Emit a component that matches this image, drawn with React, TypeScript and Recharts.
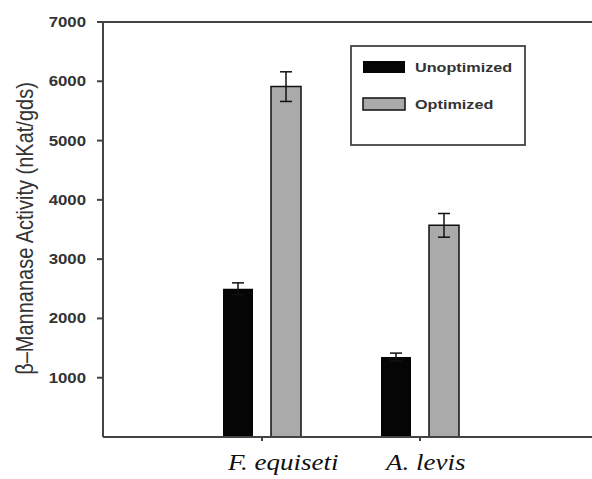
import React from 'react';
import { BarChart, Bar, XAxis, YAxis, ErrorBar, Legend, ReferenceLine } from 'recharts';

const categories = ['F. equiseti', 'A. levis'];
const seriesNames = ['Unoptimized', 'Optimized'];
const unoptimized = [2500, 1350];
const optimized = [5910, 3570];
const unoptimizedErr = [100, 65];
const optimizedErr = [250, 200];
const yTicks = [1000, 2000, 3000, 4000, 5000, 6000, 7000];
const yLabel = 'β–Mannanase Activity (nKat/gds)';

const data = categories.map((c, i) => ({
  name: c,
  Unoptimized: unoptimized[i],
  Optimized: optimized[i],
  uErr: unoptimizedErr[i],
  oErr: optimizedErr[i],
}));

const AXIS = '#444';
const TEXT = '#333';
const GRAY = '#aaaaaa';

const YTick = (props: any) => {
  const { x, y, payload } = props;
  return (
    <g transform={`translate(${x},${y}) scale(1.2,1)`}>
      <text x={0} y={0} dy="0.36em" textAnchor="end" fill={TEXT}
        fontFamily="Liberation Sans, Arial, sans-serif" fontWeight="bold" fontSize={14}>
        {payload.value}
      </text>
    </g>
  );
};

const XTick = (props: any) => {
  const { x, y, payload } = props;
  return (
    <g transform={`translate(${x - 34},${y + 27}) scale(1.2,1)`}>
      <text x={0} y={0} textAnchor="start" fill="#111"
        fontFamily="Liberation Serif, Times New Roman, serif" fontStyle="italic" fontSize={22.5}>
        {payload.value}
      </text>
    </g>
  );
};

const YLabel = (props: any) => {
  const vb = props.viewBox || {};
  const cy = (vb.y || 0) + (vb.height || 0) / 2 - 1;
  return (
    <g transform={`translate(25,${cy}) rotate(-90) scale(1,1.2)`}>
      <text x={0} y={0} textAnchor="middle" fill={TEXT}
        fontFamily="Liberation Sans, Arial, sans-serif" fontSize={20}>
        {yLabel}
      </text>
    </g>
  );
};

const LegendBox = (props: any) => {
  const payload = [...(props.payload || [])].sort(
    (a: any, b: any) => seriesNames.indexOf(a.value) - seriesNames.indexOf(b.value)
  );
  return (
    <svg width={176} height={101} style={{ display: 'block' }}>
      <rect x={1} y={1} width={174} height={99} fill="#fff" stroke={AXIS} strokeWidth={1.8} />
      {payload.map((e: any, i: number) => {
        const top = 16 + i * 37;
        const isOpt = e.value === 'Optimized';
        return (
          <g key={e.value}>
            <rect x={13} y={top} width={42} height={12}
              fill={isOpt ? GRAY : '#050505'} stroke="#111" strokeWidth={isOpt ? 1.5 : 0} />
            <g transform={`translate(65,${top + 6}) scale(1.2,1)`}>
              <text x={0} y={0} dy="0.36em" fill={TEXT}
                fontFamily="Liberation Sans, Arial, sans-serif" fontWeight="bold" fontSize={13.5}>
                {e.value}
              </text>
            </g>
          </g>
        );
      })}
    </svg>
  );
};

export default function App() {
  return (
    <div style={{ position: 'absolute', left: 8, top: 8, width: 584, height: 471, overflow: 'hidden' }}>
      <BarChart width={584} height={471} data={data}
        margin={{ top: 14, right: 0, left: 0, bottom: 0 }}
        barSize={30} barGap={18}>
        <XAxis dataKey="name" height={42} padding={{ left: 80, right: 93 }}
          axisLine={{ stroke: AXIS, strokeWidth: 2 }}
          tickLine={{ stroke: AXIS, strokeWidth: 2 }} tickSize={4} tickMargin={2}
          tick={<XTick />} interval={0} />
        <YAxis width={95} domain={[0, 7000]} ticks={yTicks} interval={0}
          axisLine={{ stroke: AXIS, strokeWidth: 2 }}
          tickLine={{ stroke: AXIS, strokeWidth: 2 }} tickSize={6} tickMargin={11}
          tick={<YTick />} label={<YLabel />} />
        <ReferenceLine y={7000} stroke={AXIS} strokeWidth={2} />
        <Legend layout="vertical" align="center" verticalAlign="middle"
          content={<LegendBox />}
          wrapperStyle={{ position: 'absolute', left: 342, top: 37, width: 176, height: 101 }} />
        <Bar dataKey="Unoptimized" fill="#050505" isAnimationActive={false}>
          <ErrorBar dataKey="uErr" width={6} stroke="#111" strokeWidth={1.5} />
        </Bar>
        <Bar dataKey="Optimized" fill={GRAY} stroke="#111" strokeWidth={1.5} isAnimationActive={false}>
          <ErrorBar dataKey="oErr" width={6} stroke="#111" strokeWidth={1.5} />
        </Bar>
      </BarChart>
    </div>
  );
}
